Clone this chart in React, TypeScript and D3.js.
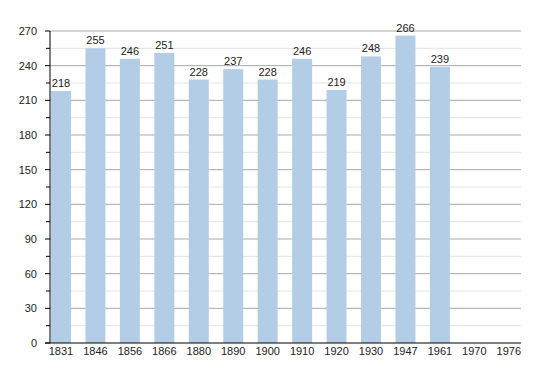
import React from "react";
import * as d3 from "d3";

const years = ["1831","1846","1856","1866","1880","1890","1900","1910","1920","1930","1947","1961","1970","1976"];
const population: (number | null)[] = [218,255,246,251,228,237,228,246,219,248,266,239,null,null];
const majorTicks = [0,30,60,90,120,150,180,210,240,270];
const minorTicks = [15,45,75,105,135,165,195,225,255];

export default function App() {
  const W = 550, H = 373;
  const left = 50, right = 521, top = 31, bottom = 343;
  const y = d3.scaleLinear().domain([0, 270]).range([bottom, top]);
  const x = d3.scaleBand<string>().domain(years).range([51, 518.8]).paddingInner(0.4194).paddingOuter(0);
  const font = "'Liberation Sans', Arial, sans-serif";
  return (
    <svg width={W} height={H} style={{ position: "absolute", left: 0, top: 0 }} fontFamily={font}>
      <rect width={W} height={H} fill="#fff" />
      {minorTicks.map(t => (
        <g key={"m" + t}>
          <line x1={left} x2={right} y1={y(t)} y2={y(t)} stroke="#e4e4e4" strokeWidth={1} />
          <line x1={left - 4} x2={left} y1={y(t)} y2={y(t)} stroke="#000" strokeWidth={1} />
        </g>
      ))}
      {majorTicks.map(t => (
        <g key={"M" + t}>
          {t > 0 && <line x1={left} x2={right} y1={y(t)} y2={y(t)} stroke="#a8a8a8" strokeWidth={1} />}
          <line x1={left - 5} x2={left} y1={y(t)} y2={y(t)} stroke="#000" strokeWidth={1} />
          <text x={37} y={y(t) + 4} textAnchor="end" fontSize={11} fill="#222">{t}</text>
        </g>
      ))}
      {years.map((yr, i) => {
        const v = population[i];
        const bx = x(yr)!;
        const bw = x.bandwidth();
        return (
          <g key={yr}>
            {v != null && (
              <>
                <rect x={bx} y={y(v)} width={bw} height={bottom - y(v)} fill="#b3cde6" />
                <text x={bx + bw / 2} y={y(v) - 4} textAnchor="middle" fontSize={11} fill="#222">{v}</text>
              </>
            )}
            <text x={bx + bw / 2} y={355} textAnchor="middle" fontSize={11} fill="#222">{yr}</text>
          </g>
        );
      })}
      <line x1={left} x2={left} y1={top} y2={bottom} stroke="#000" strokeWidth={1} />
      <line x1={left - 5} x2={right} y1={bottom} y2={bottom} stroke="#000" strokeWidth={1.2} />
    </svg>
  );
}
